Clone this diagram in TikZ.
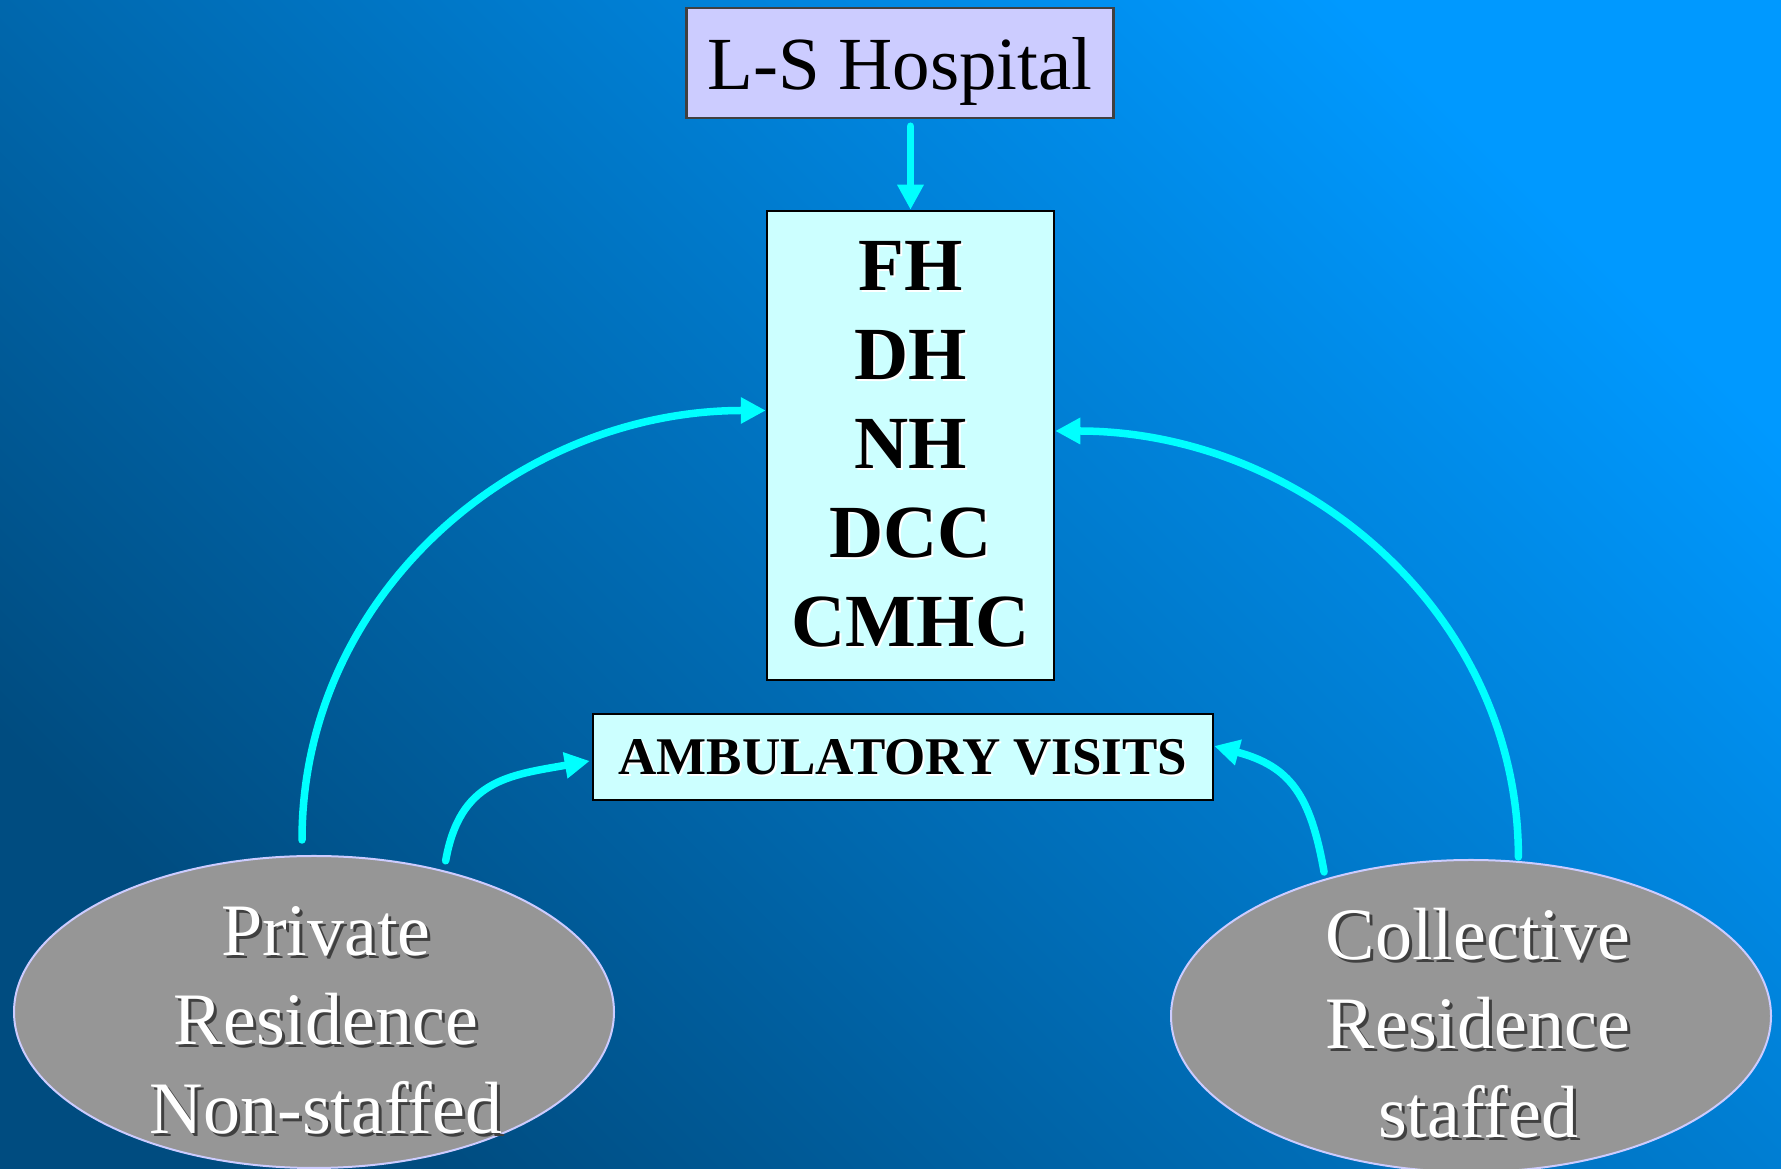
\documentclass[tikz,border=0pt]{standalone}
\usepackage{fontspec}
\setmainfont{Liberation Serif}
\usetikzlibrary{shapes.geometric,arrows.meta,positioning}

\definecolor{bgdark}{RGB}{0,76,128}
\definecolor{bglight}{RGB}{0,153,255}
\definecolor{lavender}{RGB}{204,204,255}
\definecolor{paleblue}{RGB}{204,255,255}
\definecolor{resgray}{RGB}{150,150,150}
\definecolor{flowcyan}{RGB}{0,255,255}

% text with a soft drop shadow
\newcommand{\shadowtxt}[3][2pt]{\makebox[0pt][l]{\kern#1\raisebox{-#1}{\color{#2}#3}}#3}
% three lines inside an ellipse, kept out of the node size
\newcommand{\resblock}[4][0pt]{\smash{\kern#1\raisebox{-21pt}{\begin{tabular}{@{}c@{}}\shadowtxt[3pt]{black!75}{#2}\\ \shadowtxt[3pt]{black!75}{#3}\\ \shadowtxt[3pt]{black!75}{#4}\end{tabular}}}}

\begin{document}
\begin{tikzpicture}[x=1pt, y=1pt,
    box/.style={rectangle, draw=black, line width=2.5pt, fill=paleblue, inner sep=0pt},
    resid/.style={ellipse, draw=lavender, line width=2pt, fill=resgray, text=white, inner sep=0pt,
        minimum width=600pt, minimum height=312pt, font=\fontsize{74}{89}\selectfont},
    flow/.style={flowcyan, line width=7.5pt, line cap=round, -{Triangle[length=25pt, width=25pt]}}]
    % Background
    \useasboundingbox (0,0) rectangle (1781,1169);
    \clip (0,0) rectangle (1781,1169);
    \shade[top color=bglight, bottom color=bgdark, shading angle=-45] (0,0) rectangle (1781,1169);

    % Boxes
    \node[rectangle, draw=black!75, line width=2.5pt, fill=lavender, inner sep=0pt, text depth=0pt,
        minimum width=427pt, minimum height=110pt, font=\fontsize{75}{89}\selectfont]
        (hosp) at (900,1106) {\shadowtxt{white!80!blue}{L-S Hospital}};
    \node[box, minimum width=287pt, minimum height=469pt, align=center,
        font=\fontsize{75}{89}\selectfont\bfseries] (fac) at (910.5,723.5)
        {\shadowtxt{white}{FH}\\ \shadowtxt{white}{DH}\\ \shadowtxt{white}{NH}\\
         \shadowtxt{white}{DCC}\\ \shadowtxt{white}{CMHC}};
    \node[box, minimum width=620pt, minimum height=86pt, text depth=0pt,
        font=\fontsize{53}{60}\selectfont\bfseries] (amb) at (903,412)
        {\shadowtxt{white}{AMBULATORY VISITS}};

    % Residences
    \node[resid] (priv) at (314,157) {\resblock[24pt]{Private}{Residence}{Non-staffed}};
    \node[resid] (coll) at (1471,153) {\resblock[14pt]{Collective}{Residence}{staffed}};

    % Flows
    \draw[flow, shorten <=7pt] (hosp.south -| fac.north) -- (fac.north);
    \draw[flow] ([xshift=-12pt,yshift=15pt]priv.north) to[out=90, in=180] ([yshift=35pt]fac.west);
    \draw[flow] ([yshift=10pt]priv.47) to[out=80, in=190, looseness=1.2] ([xshift=-2pt,yshift=-4pt]amb.west);
    \draw[flow] ([yshift=4pt]coll.73) to[out=90, in=0] ([yshift=14.5pt]fac.east);
    \draw[flow] ([yshift=7pt]coll.137) to[out=100, in=-15, looseness=1.2] ([yshift=11pt]amb.east);
\end{tikzpicture}
\end{document}
